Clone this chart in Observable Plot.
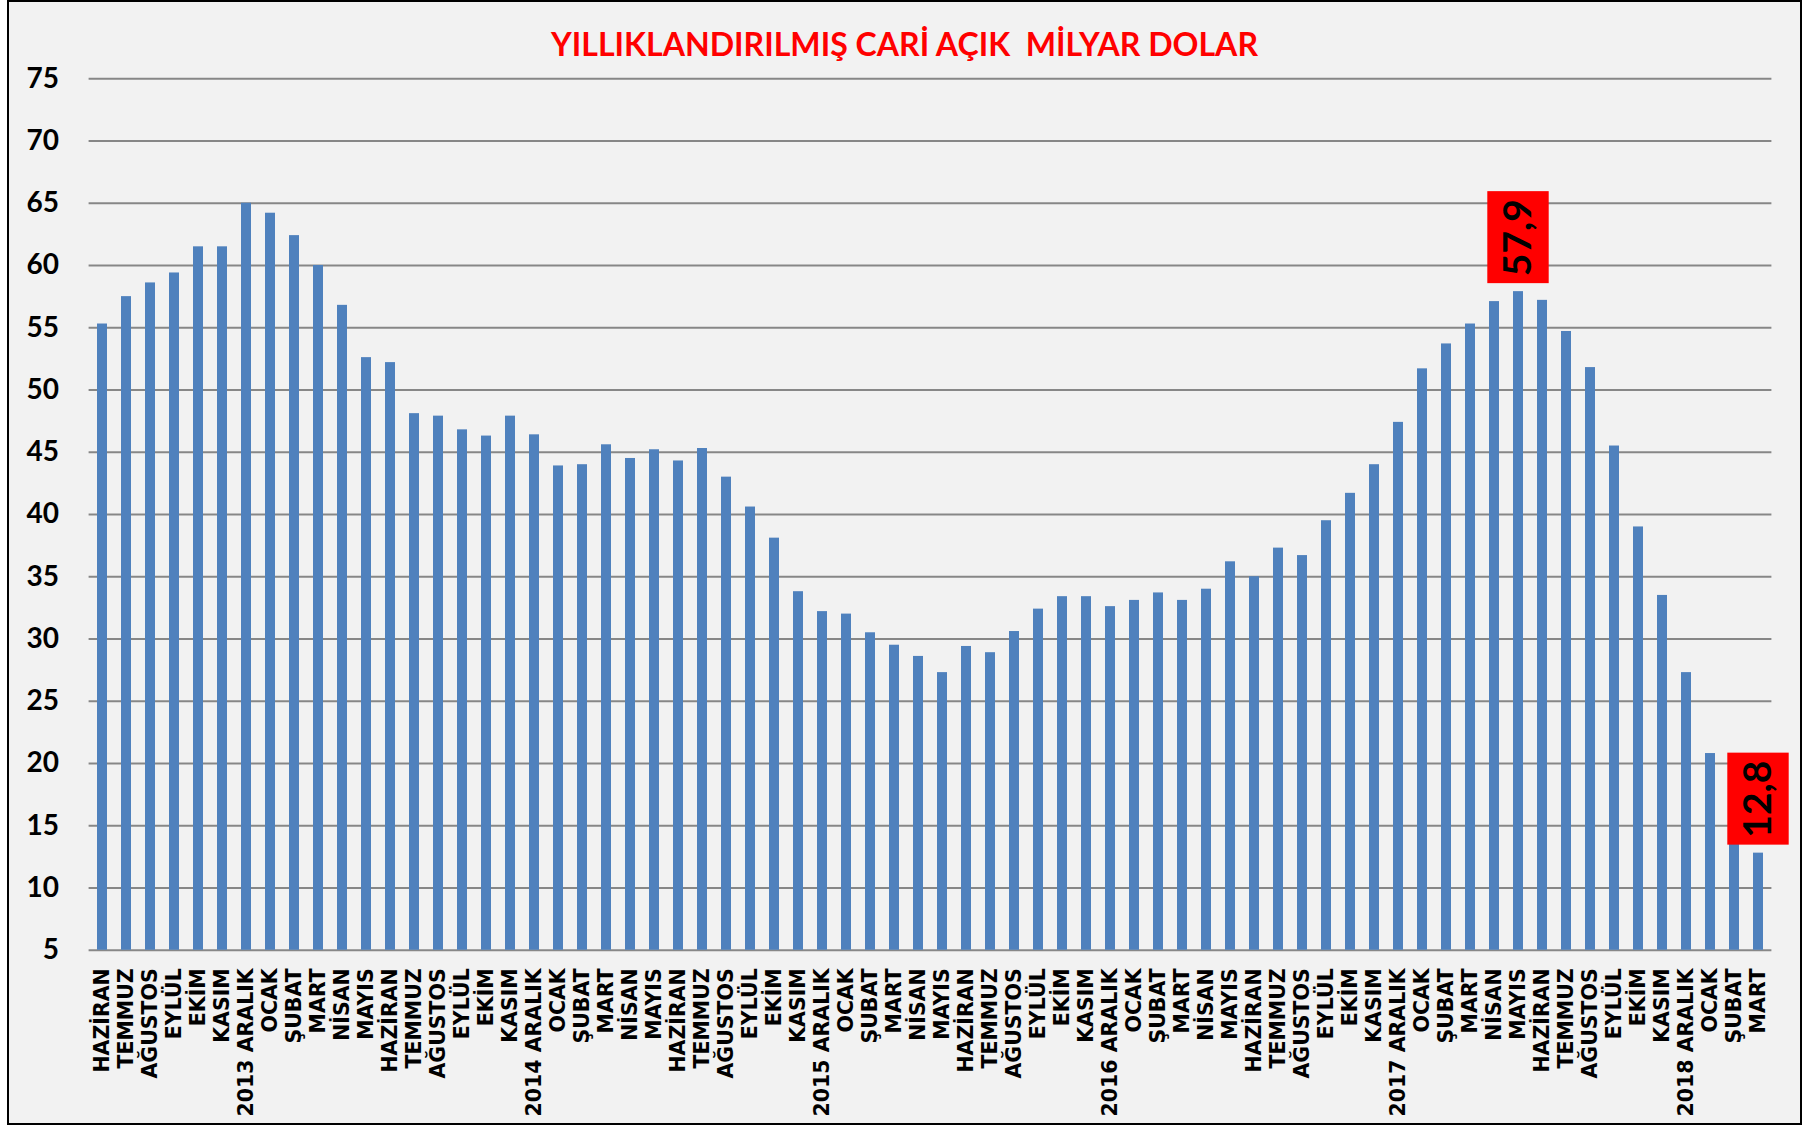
<!DOCTYPE html>
<html>
<head>
<meta charset="utf-8">
<script src="https://cdn.jsdelivr.net/npm/d3@7"></script>
<script src="https://cdn.jsdelivr.net/npm/@observablehq/plot@0.6"></script>
<style>
  html, body { margin: 0; padding: 0; background: #ffffff; }
  #frame { position: absolute; left: 7px; top: 0; width: 1795px; height: 1125px; box-sizing: border-box; border: 2px solid #000; background: #f2f2f2; }
  #chart { position: absolute; left: 0; top: 0; }
  #title { position: absolute; left: 0; top: 0; }
</style>
</head>
<body>
<div id="frame"></div>
<div id="chart"></div>
<svg id="title" width="1808" height="80"></svg>
<script>
const TITLE = "YILLIKLANDIRILMIŞ CARİ AÇIK  MİLYAR DOLAR";

const months = [
  "HAZİRAN","TEMMUZ","AĞUSTOS","EYLÜL","EKİM","KASIM","2013 ARALIK",
  "OCAK","ŞUBAT","MART","NİSAN","MAYIS","HAZİRAN","TEMMUZ","AĞUSTOS","EYLÜL","EKİM","KASIM","2014 ARALIK",
  "OCAK","ŞUBAT","MART","NİSAN","MAYIS","HAZİRAN","TEMMUZ","AĞUSTOS","EYLÜL","EKİM","KASIM","2015 ARALIK",
  "OCAK","ŞUBAT","MART","NİSAN","MAYIS","HAZİRAN","TEMMUZ","AĞUSTOS","EYLÜL","EKİM","KASIM","2016 ARALIK",
  "OCAK","ŞUBAT","MART","NİSAN","MAYIS","HAZİRAN","TEMMUZ","AĞUSTOS","EYLÜL","EKİM","KASIM","2017 ARALIK",
  "OCAK","ŞUBAT","MART","NİSAN","MAYIS","HAZİRAN","TEMMUZ","AĞUSTOS","EYLÜL","EKİM","KASIM","2018 ARALIK",
  "OCAK","ŞUBAT","MART"
];

const deficit = [
  55.3, 57.5, 58.6, 59.4, 61.5, 61.5, 65.0, 64.2, 62.4, 60.0,
  56.8, 52.6, 52.2, 48.1, 47.9, 46.8, 46.3, 47.9, 46.4, 43.9,
  44.0, 45.6, 44.5, 45.2, 44.3, 45.3, 43.0, 40.6, 38.1, 33.8,
  32.2, 32.0, 30.5, 29.5, 28.6, 27.3, 29.4, 28.9, 30.6, 32.4,
  33.4, 33.4, 32.6, 33.1, 33.7, 33.1, 34.0, 36.2, 35.0, 37.3,
  36.7, 39.5, 41.7, 44.0, 47.4, 51.7, 53.7, 55.3, 57.1, 57.9,
  57.2, 54.7, 51.8, 45.5, 39.0, 33.5, 27.3, 20.8, 16.3, 12.8
];

const yTicks = [5, 10, 15, 20, 25, 30, 35, 40, 45, 50, 55, 60, 65, 70, 75];
const highlightIdx = [59, 69];

const yMin = yTicks[0], yMax = yTicks[yTicks.length - 1];
const data = deficit.map((v, i) => ({i, v}));
const highlights = highlightIdx.map(i => ({i, v: deficit[i], t: deficit[i].toFixed(1).replace(".", ",")}));

// title
const tsvg = d3.select("#title");
tsvg.append("text")
  .attr("x", 904.5).attr("y", 55.5)
  .attr("text-anchor", "middle")
  .attr("font-family", "Lato")
  .attr("font-weight", "bold")
  .attr("font-size", 32)
  .attr("fill", "#ff0000")
  .attr("textLength", 707)
  .attr("lengthAdjust", "spacingAndGlyphs")
  .style("white-space", "pre")
  .text(TITLE);

const chart = Plot.plot({
  width: 1808,
  height: 1125,
  marginLeft: 88.6,
  marginRight: 36.6,
  marginTop: 78.25,
  marginBottom: 175.25,
  style: {background: "transparent", overflow: "visible"},
  x: {type: "band", domain: d3.range(months.length), paddingInner: 0.6, paddingOuter: 0.3},
  y: {domain: [yMin, yMax]},
  marks: [
    Plot.ruleY(yTicks, {stroke: "#878787", strokeWidth: 2}),
    Plot.barY(data, {x: "i", y1: () => yMin, y2: "v", fill: "#4f81bd"}),
    Plot.barY(highlights, {x: "i", y1: "v", y2: "v", fill: "#ff0000", insetTop: -100, insetBottom: 8, insetLeft: -25.7, insetRight: -25.7}),
    Plot.text(highlights, {x: "i", y: "v", text: "t", rotate: -90, dy: -54, fontSize: 39, fontWeight: "bold", fontFamily: "Lato", fill: "#000"}),
    Plot.axisY({ticks: yTicks, tickSize: 0, tickPadding: 30, fontSize: 28, fontWeight: "bold", fontFamily: "Lato", label: null}),
    Plot.axisX({tickSize: 0, tickPadding: 18, tickRotate: -90, tickFormat: i => months[i], fontSize: 20.5, fontWeight: "bold", fontFamily: "DejaVu Sans", label: null})
  ]
});
document.getElementById("chart").appendChild(chart);
</script>
</body>
</html>
